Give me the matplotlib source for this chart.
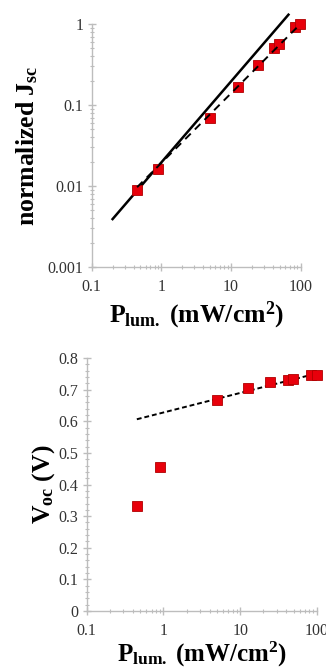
import numpy as np
import matplotlib
matplotlib.use("Agg")
import matplotlib.pyplot as plt
from matplotlib.ticker import LogLocator, FuncFormatter, MultipleLocator, NullFormatter

plt.rcParams['font.family'] = ['Liberation Serif', 'DejaVu Serif']
plt.rcParams['mathtext.fontset'] = 'custom'
plt.rcParams['mathtext.rm'] = 'Liberation Serif'
plt.rcParams['mathtext.bf'] = 'Liberation Serif:bold'
plt.rcParams['mathtext.it'] = 'Liberation Serif:italic'

# Data
P_lum = [0.45, 0.9, 5.05, 12.5, 24.5, 42, 49, 84, 99]
Jsc_norm = [0.0089, 0.016, 0.069, 0.168, 0.31, 0.50, 0.56, 0.92, 1.0]
Voc = [0.333, 0.457, 0.668, 0.707, 0.724, 0.730, 0.733, 0.747, 0.747]

# Fit / reference lines (parameters)
ideal_k = 0.0195          # Jsc = k * P (slope 1)
ideal_range = [0.2, 67]
jfit_a, jfit_n = 0.0192, 0.86   # Jsc = a * P^n
jfit_range = [0.45, 100]
vfit_a, vfit_b = 0.628, 0.0618  # Voc = a + b*log10(P)
vfit_range = [0.45, 100]

red = '#e8000b'
edge = '#b00000'
spine_c = '#bdbdbd'
tick_c = '#333333'

fig = plt.figure(figsize=(3.26, 6.69), dpi=100)

def style_axes(ax):
    for s in ['top', 'right']:
        ax.spines[s].set_visible(False)
    for s in ['left', 'bottom']:
        ax.spines[s].set_color(spine_c)
        ax.spines[s].set_linewidth(1.0)
    ax.tick_params(which='major', direction='inout', length=6, width=1,
                   color=spine_c, labelcolor=tick_c, labelsize=11.5)
    ax.tick_params(which='minor', direction='inout', length=3, width=0.8,
                   color=spine_c)
    ax.tick_params(axis='x', which='major', pad=6)
    ax.tick_params(axis='y', which='major', pad=3)

fmt = FuncFormatter(lambda v, p: '{:g}'.format(v))

# Top panel
ax1 = fig.add_axes([0.281, 0.601, 0.641, 0.363])
style_axes(ax1)
ax1.set_xscale('log')
ax1.set_yscale('log')
ax1.set_xlim(0.1, 100)
ax1.set_ylim(0.001, 1)
ax1.xaxis.set_major_locator(LogLocator(base=10, numticks=10))
ax1.xaxis.set_minor_locator(LogLocator(base=10, subs=np.arange(2, 10), numticks=20))
ax1.yaxis.set_major_locator(LogLocator(base=10, numticks=10))
ax1.yaxis.set_minor_locator(LogLocator(base=10, subs=np.arange(2, 10), numticks=20))
ax1.xaxis.set_major_formatter(fmt)
ax1.yaxis.set_major_formatter(fmt)
ax1.xaxis.set_minor_formatter(NullFormatter())
ax1.yaxis.set_minor_formatter(NullFormatter())

px = np.logspace(np.log10(ideal_range[0]), np.log10(ideal_range[1]), 50)
ax1.plot(px, ideal_k * px, color='black', lw=1.8, clip_on=False, zorder=3)
ax1.plot(P_lum, Jsc_norm, 's', color=red, mec=edge, mew=0.6, ms=7, zorder=4, clip_on=False)
fx = np.logspace(np.log10(jfit_range[0]), np.log10(jfit_range[1]), 50)
ax1.plot(fx, jfit_a * fx ** jfit_n, color='black', lw=1.4, ls=(0, (4, 3)), zorder=5, clip_on=False)

ax1.set_xlabel(r'P$_{\mathbf{lum.}}$ (mW/cm$^{\mathbf{2}}$)', fontsize=18.5, fontweight='bold', labelpad=3)
ax1.set_ylabel(r'normalized J$_{\mathbf{sc}}$', fontsize=18.5, fontweight='bold', labelpad=5)

# Bottom panel
ax2 = fig.add_axes([0.266, 0.0867, 0.706, 0.378])
style_axes(ax2)
ax2.set_xscale('log')
ax2.set_xlim(0.1, 100)
ax2.set_ylim(0, 0.8)
ax2.xaxis.set_major_locator(LogLocator(base=10, numticks=10))
ax2.xaxis.set_minor_locator(LogLocator(base=10, subs=np.arange(2, 10), numticks=20))
ax2.xaxis.set_major_formatter(fmt)
ax2.xaxis.set_minor_formatter(NullFormatter())
ax2.yaxis.set_major_locator(MultipleLocator(0.1))
ax2.yaxis.set_minor_locator(MultipleLocator(0.02))
ax2.yaxis.set_major_formatter(FuncFormatter(lambda v, p: '{:g}'.format(round(v, 2))))

vx = np.logspace(np.log10(vfit_range[0]), np.log10(vfit_range[1]), 50)
ax2.plot(vx, vfit_a + vfit_b * np.log10(vx), color='black', lw=1.4, ls=(0, (2.5, 1.5)), zorder=3, clip_on=False)
ax2.plot(P_lum, Voc, 's', color=red, mec=edge, mew=0.6, ms=7, zorder=4, clip_on=False)

ax2.set_xlabel(r'P$_{\mathbf{lum.}}$ (mW/cm$^{\mathbf{2}}$)', fontsize=18, fontweight='bold', labelpad=0)
ax2.set_ylabel(r'V$_{\mathbf{oc}}$ (V)', fontsize=18.5, fontweight='bold', labelpad=1)

fig.savefig('out.png', dpi=100)
